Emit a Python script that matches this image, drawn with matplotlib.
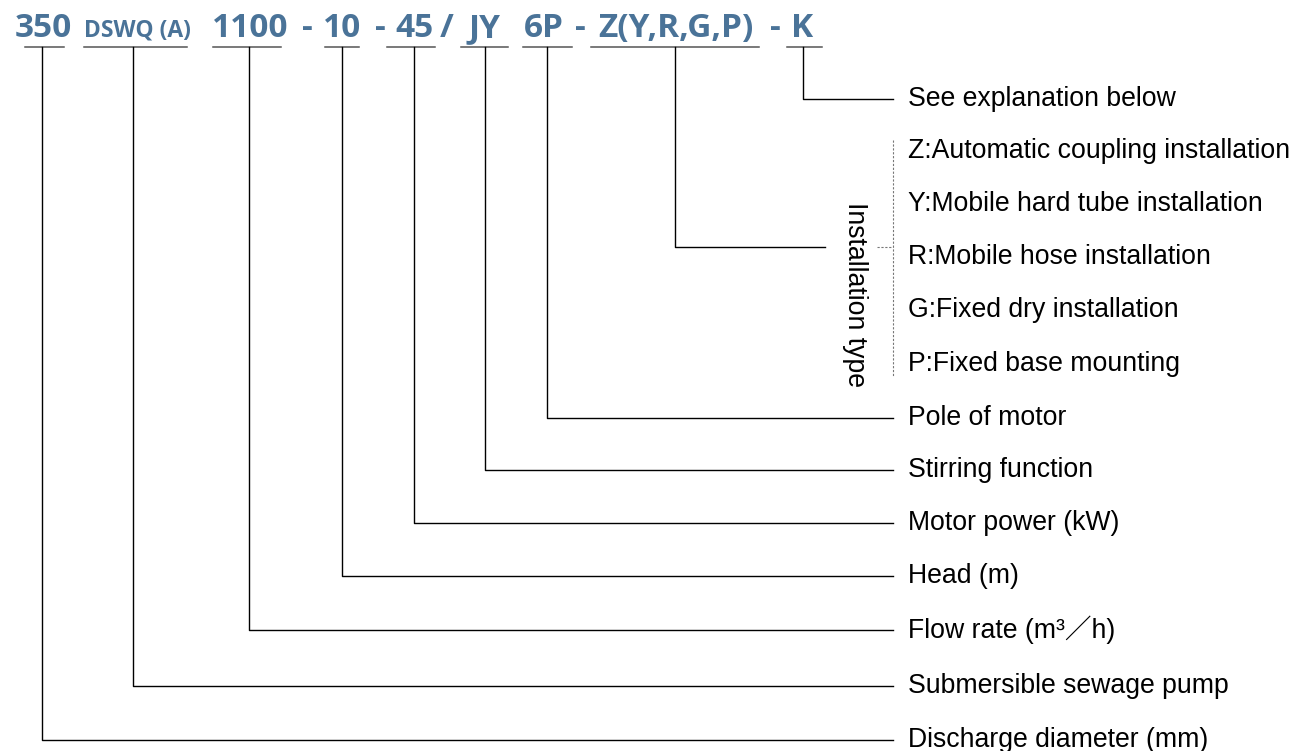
import matplotlib
matplotlib.use('Agg')
import matplotlib.pyplot as plt

# model code parts, in order along the header
codes = ['350', 'DSWQ (A)', '1100', '10', '45', 'JY', '6P', 'Z(Y,R,G,P)', 'K']
separators = ['-', '-', '/', '-', '-']  # between 1100|10, 10|45, 45|JY, 6P|Z, Z|K
labels = ['Discharge diameter (mm)', 'Submersible sewage pump', 'Flow rate (m³／h)',
          'Head (m)', 'Motor power (kW)', 'Stirring function', 'Pole of motor',
          'Installation type', 'See explanation below']
install_options = ['Z:Automatic coupling installation', 'Y:Mobile hard tube installation',
                   'R:Mobile hose installation', 'G:Fixed dry installation',
                   'P:Fixed base mounting']

# layout (pixel coords)
W, H = 1293, 751
underline = [(25, 64), (84, 187), (213, 281), (325, 359), (387, 435),
             (461, 508), (523, 572), (591, 759), (787, 822)]
code_cx = [43, 137, 250, 342, 414, 485, 544, 676, 802]
stem_x = [42, 133, 249, 342, 414, 485, 547, 675, 803]
label_y = [740, 686, 630, 576, 523, 470, 418, 247, 99]
sep_x = [307, 380, 447, 580, 775]
option_y = [151, 204, 257, 310, 364]
code_size = [24, 16.5, 24, 24, 24, 24, 24, 24, 24]

blue = '#4a7398'
line_end = 893
text_x = 908
lab_size = 19.2
lab_font = ['Liberation Sans', 'Noto Sans CJK SC']

fig = plt.figure(figsize=(W / 100, H / 100), dpi=100)
ax = fig.add_axes([0, 0, 1, 1])
ax.set_xlim(0, W)
ax.set_ylim(H, 0)
ax.axis('off')

for i, code in enumerate(codes):
    x0, x1 = underline[i]
    ax.text(code_cx[i], 37, code, color=blue, fontsize=code_size[i],
            fontweight='bold', family='Open Sans', ha='center', va='baseline')
    ax.plot([x0, x1], [47, 47], color='#555555', lw=1.1)
    sx = stem_x[i]
    ly = label_y[i]
    if labels[i] == 'Installation type':
        ax.plot([sx, sx, 825], [47, ly, ly], color='black', lw=1.0)
    else:
        ax.plot([sx, sx, line_end], [47, ly, ly], color='black', lw=1.0)
        ax.text(text_x, ly, labels[i], fontsize=lab_size, family=lab_font,
                ha='left', va='center')

for s, x in zip(separators, sep_x):
    ax.text(x, 37, s, color=blue, fontsize=24, fontweight='bold', family='Open Sans',
            ha='center', va='baseline')

# installation type bracket
ax.plot([877, 893], [247, 247], color='#777777', lw=0.8, ls=(0, (2, 1.5)))
ax.plot([893, 893], [140, 377], color='#777777', lw=0.8, ls=(0, (2, 1.5)))
ax.text(855, 295, 'Installation type', fontsize=lab_size, family=lab_font,
        rotation=-90, ha='center', va='center')
for opt, y in zip(install_options, option_y):
    ax.text(text_x, y, opt, fontsize=lab_size, family=lab_font, ha='left', va='center')

plt.savefig('out.png', dpi=100)
